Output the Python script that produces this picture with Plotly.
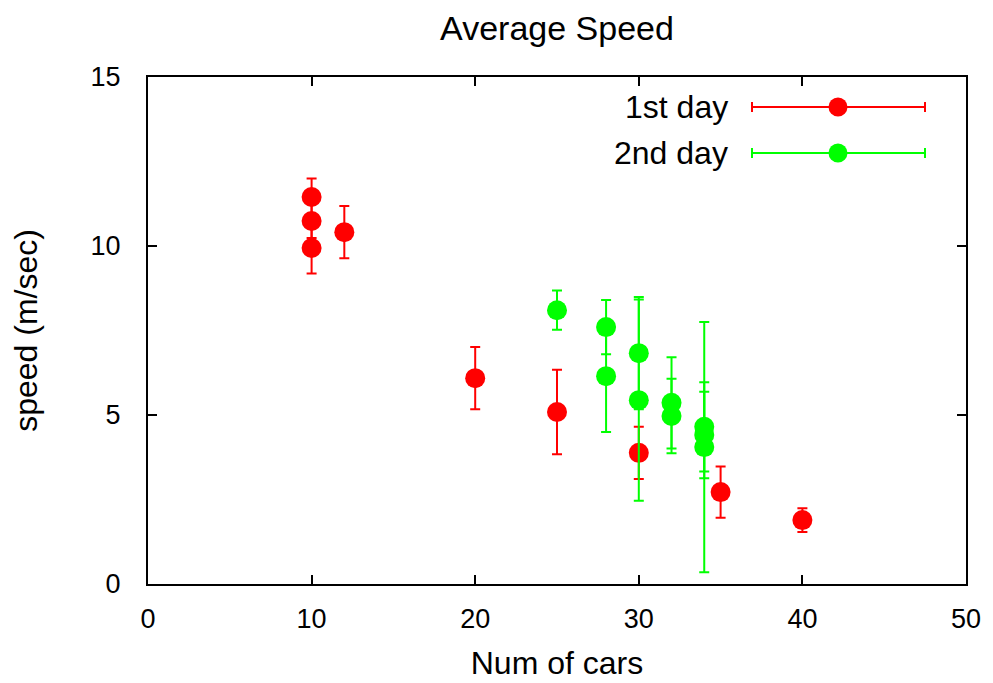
import plotly.graph_objects as go

# Data
day1_x = [10, 10, 10, 12, 20, 25, 30, 35, 40]
day1_y = [11.45, 10.74, 9.94, 10.41, 6.09, 5.09, 3.88, 2.72, 1.89]
day1_err = [0.55, 0.5, 0.75, 0.77, 0.92, 1.25, 0.77, 0.76, 0.35]

day2_x = [25, 28, 28, 30, 30, 32, 32, 34, 34, 34]
day2_y = [8.1, 7.6, 6.15, 6.83, 5.44, 5.36, 4.97, 4.65, 4.41, 4.05]
day2_err = [0.58, 0.8, 1.65, 1.66, 2.98, 1.35, 1.1, 1.32, 1.28, 3.7]

series_names = ["1st day", "2nd day"]
colors = ["#ff0000", "#00ff00"]

FONT = "Liberation Sans, Arial, sans-serif"

fig = go.Figure()
for xs, ys, es, name, col in [(day1_x, day1_y, day1_err, series_names[0], colors[0]),
                              (day2_x, day2_y, day2_err, series_names[1], colors[1])]:
    fig.add_trace(go.Scatter(
        x=xs, y=ys, mode="markers", name=name,
        marker=dict(color=col, size=20, line=dict(width=0)),
        error_y=dict(type="data", array=es, visible=True, color=col, thickness=2, width=5),
        showlegend=False,
    ))

# Custom legend (gnuplot style)
L = dict(x_text=0.7115, x0=0.7384, x1=0.9499, xm=0.8435)
for name, col, yy in [(series_names[0], colors[0], 0.9408), (series_names[1], colors[1], 0.8501)]:
    fig.add_annotation(xref="paper", yref="paper", x=L["x_text"], y=yy, text=name,
                       showarrow=False, xanchor="right", yanchor="middle",
                       font=dict(family=FONT, size=32, color="black"))
    fig.add_shape(type="line", xref="paper", yref="paper", x0=L["x0"], x1=L["x1"], y0=yy, y1=yy,
                  line=dict(color=col, width=2))
    for xc in (L["x0"], L["x1"]):
        fig.add_shape(type="line", xref="paper", yref="paper", xsizemode="pixel", ysizemode="pixel",
                      xanchor=xc, yanchor=yy, x0=0, x1=0, y0=-5, y1=5, line=dict(color=col, width=2))
    fig.add_shape(type="circle", xref="paper", yref="paper", xsizemode="pixel", ysizemode="pixel",
                  xanchor=L["xm"], yanchor=yy, x0=-9.5, x1=9.5, y0=-9.5, y1=9.5,
                  fillcolor=col, line=dict(width=0))

axis_common = dict(showline=True, linecolor="black", linewidth=2, mirror="ticks",
                   ticks="inside", ticklen=9, tickwidth=2, tickcolor="black",
                   showgrid=False, zeroline=False,
                   tickfont=dict(family=FONT, size=27, color="black"))

fig.update_layout(
    width=993, height=683,
    margin=dict(l=140, r=35, t=69, b=107),
    paper_bgcolor="white", plot_bgcolor="white",
    title=dict(text="Average Speed", x=0.5, xref="paper", y=0.971, yref="container", yanchor="middle",
               font=dict(family=FONT, size=34, color="black")),
    xaxis=dict(range=[0, 50], dtick=10, tick0=0, ticklabelstandoff=10,
               title=dict(text="Num of cars", font=dict(family=FONT, size=32, color="black"), standoff=18),
               **axis_common),
    yaxis=dict(range=[0, 15], dtick=5, tick0=0, ticklabelstandoff=20,
               title=dict(text="speed (m/sec)", font=dict(family=FONT, size=32, color="black"), standoff=44),
               **axis_common),
)

fig.write_html("out.html")
